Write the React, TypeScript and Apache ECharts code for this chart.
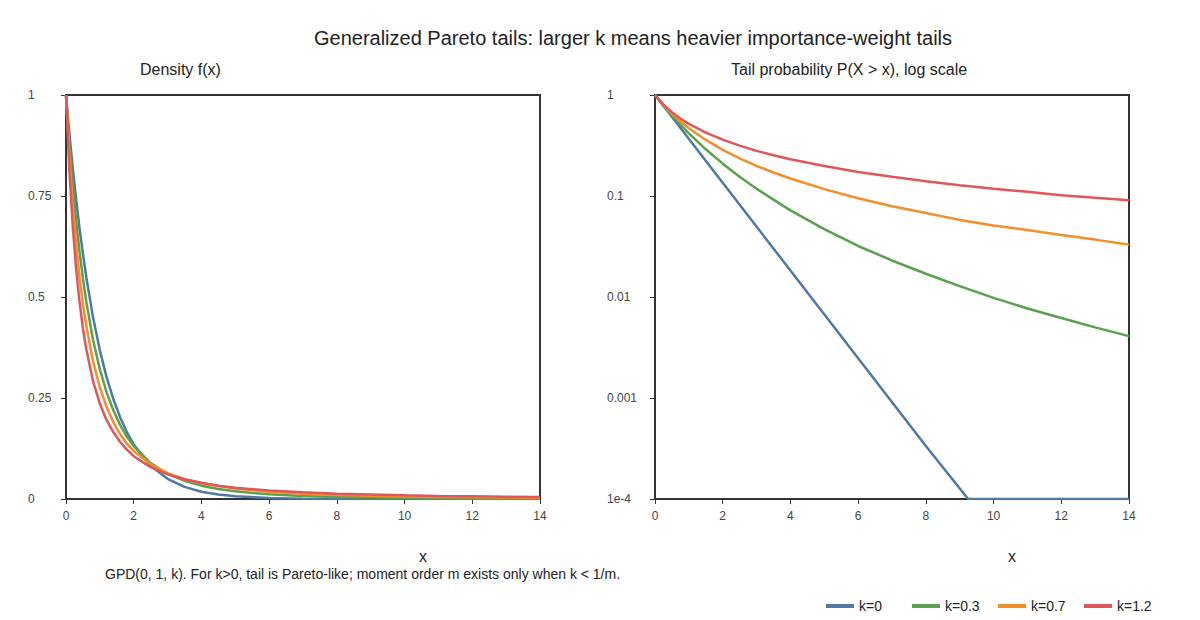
import React, { useEffect, useRef } from "react";
import * as echarts from "echarts";

const FONT = "'Liberation Sans', Arial, Helvetica, sans-serif";

const seriesNames = ["k=0", "k=0.3", "k=0.7", "k=1.2"];
const colors = ["#4e79a7", "#59a14f", "#f28e2b", "#e15759"];

// Density f(x)
const densityX = [0, 0.1, 0.2, 0.3, 0.4, 0.5, 0.6, 0.8, 1, 1.2, 1.4, 1.6, 1.8, 2, 2.5, 3, 3.5, 4, 4.5, 5, 6, 7, 8, 9, 10, 11, 12, 13, 14];
const densityK0 = [1, 0.905, 0.819, 0.741, 0.670, 0.607, 0.549, 0.449, 0.368, 0.301, 0.247, 0.202, 0.165, 0.135, 0.082, 0.05, 0.03, 0.018, 0.011, 0.0067, 0.0025, 0.0009, 0.0003, 0.0001, 0.00005, 0.00002, 0.00001, 0, 0];
const densityK03 = [1, 0.880, 0.777, 0.688, 0.612, 0.546, 0.488, 0.393, 0.321, 0.264, 0.219, 0.183, 0.154, 0.131, 0.089, 0.062, 0.045, 0.033, 0.025, 0.019, 0.0115, 0.0074, 0.005, 0.0035, 0.0025, 0.0018, 0.0013, 0.001, 0.0008];
const densityK07 = [1, 0.848, 0.727, 0.629, 0.550, 0.483, 0.428, 0.341, 0.276, 0.228, 0.190, 0.160, 0.137, 0.119, 0.086, 0.064, 0.049, 0.039, 0.032, 0.026, 0.018, 0.013, 0.010, 0.008, 0.0064, 0.0052, 0.0043, 0.0036, 0.0031];
const densityK12 = [1, 0.812, 0.674, 0.569, 0.488, 0.422, 0.370, 0.291, 0.236, 0.195, 0.165, 0.141, 0.122, 0.106, 0.079, 0.061, 0.049, 0.04, 0.033, 0.028, 0.021, 0.0165, 0.013, 0.011, 0.009, 0.0077, 0.0067, 0.0058, 0.0051];

// Tail probability P(X > x)
const tailXk0 = [0, 2, 4, 6, 8, 9.25, 10, 12, 14];
const tailK0 = [1, 0.135, 0.0183, 0.00248, 0.000335, 0.0001, 0.0001, 0.0001, 0.0001];
const tailX = [0, 0.25, 0.5, 0.75, 1, 1.5, 2, 2.5, 3, 3.5, 4, 5, 6, 7, 8, 9, 10, 11, 12, 13, 14];
const tailK03 = [1, 0.785, 0.628, 0.508, 0.417, 0.29, 0.209, 0.155, 0.118, 0.092, 0.072, 0.047, 0.032, 0.023, 0.017, 0.0128, 0.0098, 0.0077, 0.0062, 0.005, 0.0041];
const tailK07 = [1, 0.794, 0.651, 0.547, 0.469, 0.359, 0.286, 0.236, 0.199, 0.171, 0.149, 0.117, 0.095, 0.079, 0.068, 0.058, 0.051, 0.046, 0.041, 0.037, 0.033];
const tailK12 = [1, 0.804, 0.676, 0.585, 0.518, 0.424, 0.361, 0.315, 0.28, 0.253, 0.231, 0.198, 0.173, 0.155, 0.14, 0.128, 0.118, 0.11, 0.102, 0.096, 0.091];

const xTicks = [0, 2, 4, 6, 8, 10, 12, 14];

const zip = (xs: number[], ys: number[]) => xs.map((x, i) => [x, ys[i]]);

export default function App() {
  const ref = useRef<HTMLDivElement>(null);
  useEffect(() => {
    document.body.style.margin = "0";
    if (!ref.current) return;
    const chart = echarts.init(ref.current, undefined, { renderer: "svg" });

    const axisCommon = {
      axisLine: { show: true, onZero: false, lineStyle: { color: "#333", width: 2 } },
      axisTick: { show: true, length: 5, lineStyle: { color: "#333", width: 1 } },
      splitLine: { show: false },
      axisLabel: { color: "#444", fontSize: 12, fontFamily: FONT },
    };

    const xAxis = (gi: number) => ({
      type: "value",
      gridIndex: gi,
      min: xTicks[0],
      max: xTicks[xTicks.length - 1],
      interval: 2,
      ...axisCommon,
      axisLabel: { ...axisCommon.axisLabel, margin: 11 },
    });

    const lineSeries = (name: string, ci: number, data: number[][], gi: number) => ({
      type: "line",
      name,
      xAxisIndex: gi,
      yAxisIndex: gi,
      data,
      showSymbol: false,
      smooth: false,
      lineStyle: { color: colors[ci], width: 2.5 },
      itemStyle: { color: colors[ci] },
      clip: true,
    });

    const legends = seriesNames.map((n, i) => ({
      data: [n],
      left: 821 + i * 86,
      top: 594,
      icon: "rect",
      itemWidth: 28,
      itemHeight: 4,
      textStyle: { fontSize: 14, color: "#222", fontFamily: FONT },
    }));

    chart.setOption({
      animation: false,
      backgroundColor: "#fff",
      title: {
        text: "Generalized Pareto tails: larger k means heavier importance-weight tails",
        left: 628,
        top: 23,
        textAlign: "center",
        textStyle: { fontSize: 20, fontWeight: "normal", color: "#222", fontFamily: FONT },
      },
      graphic: [
        {
          type: "text",
          left: 140,
          top: 61,
          style: { text: "Density f(x)", fontSize: 16, fill: "#222", fontFamily: FONT },
        },
        {
          type: "text",
          left: 731,
          top: 61,
          style: { text: "Tail probability P(X > x), log scale", fontSize: 16, fill: "#222", fontFamily: FONT },
        },
        {
          type: "text",
          left: 419,
          top: 548,
          style: { text: "x", fontSize: 16, fill: "#222", fontFamily: FONT },
        },
        {
          type: "text",
          left: 1008,
          top: 548,
          style: { text: "x", fontSize: 16, fill: "#222", fontFamily: FONT },
        },
        {
          type: "text",
          left: 105,
          top: 567,
          style: {
            text: "GPD(0, 1, k). For k>0, tail is Pareto-like; moment order m exists only when k < 1/m.",
            fontSize: 14,
            fill: "#222",
            fontFamily: FONT,
          },
        },
      ],
      legend: legends,
      grid: [
        { left: 66, right: 660, top: 95, bottom: 121, show: true, borderColor: "#333", borderWidth: 2, backgroundColor: "transparent" },
        { left: 655, right: 71, top: 95, bottom: 121, show: true, borderColor: "#333", borderWidth: 2, backgroundColor: "transparent" },
      ],
      xAxis: [xAxis(0), xAxis(1)],
      yAxis: [
        {
          type: "value",
          gridIndex: 0,
          min: 0,
          max: 1,
          interval: 0.25,
          ...axisCommon,
          axisLabel: { ...axisCommon.axisLabel, align: "left", margin: 38 },
        },
        {
          type: "log",
          gridIndex: 1,
          logBase: 10,
          min: 0.0001,
          max: 1,
          ...axisCommon,
          axisLabel: {
            ...axisCommon.axisLabel,
            align: "left",
            margin: 48,
            formatter: (v: number) => {
              if (v >= 0.99) return "1";
              if (v < 0.00015) return "1e-4";
              if (v > 0.05) return "0.1";
              if (v > 0.005) return "0.01";
              return "0.001";
            },
          },
        },
      ],
      series: [
        lineSeries(seriesNames[0], 0, zip(densityX, densityK0), 0),
        lineSeries(seriesNames[1], 1, zip(densityX, densityK03), 0),
        lineSeries(seriesNames[2], 2, zip(densityX, densityK07), 0),
        lineSeries(seriesNames[3], 3, zip(densityX, densityK12), 0),
        lineSeries(seriesNames[0], 0, zip(tailXk0, tailK0), 1),
        lineSeries(seriesNames[1], 1, zip(tailX, tailK03), 1),
        lineSeries(seriesNames[2], 2, zip(tailX, tailK07), 1),
        lineSeries(seriesNames[3], 3, zip(tailX, tailK12), 1),
      ],
    });
    return () => chart.dispose();
  }, []);
  return <div ref={ref} style={{ width: 1200, height: 620 }} />;
}
